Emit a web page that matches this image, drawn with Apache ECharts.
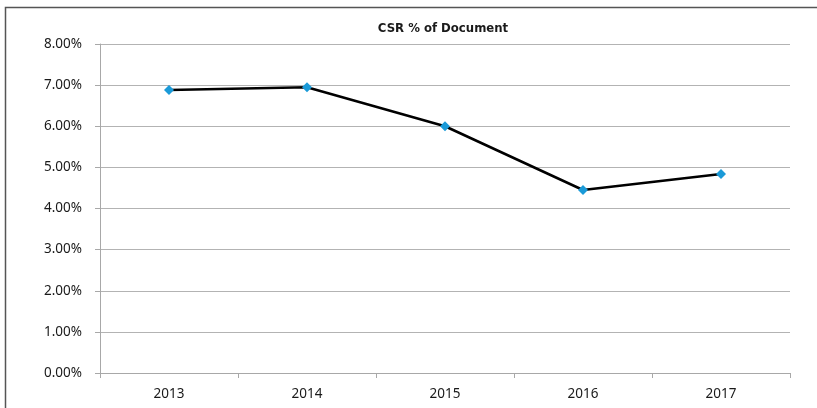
<!DOCTYPE html>
<html>
<head>
<meta charset="utf-8">
<script src="https://cdn.jsdelivr.net/npm/echarts@6/dist/echarts.min.js"></script>
<style>
  html, body { margin: 0; padding: 0; background: #fff; }
  #chart { width: 817px; height: 408px; }
</style>
</head>
<body>
<div id="chart"></div>
<script>
const years = ["2013", "2014", "2015", "2016", "2017"];
const csrShare = [6.88, 6.95, 6.00, 4.45, 4.84]; // percent of document
const yTicks = { min: 0, max: 8, step: 1 };

const chart = echarts.init(document.getElementById("chart"));

const options = {
  animation: false,
  title: {
    text: "CSR % of Document",
    left: 438,
    top: 17,
    textAlign: "center",
    textStyle: {
      fontFamily: "DejaVu Sans Condensed",
      fontWeight: "bold",
      fontSize: 13,
      color: "#1a1a1a",
    },
  },
  graphic: [
    {
      type: "rect",
      shape: { x: 5.5, y: 7.5, width: 900, height: 500 },
      style: { fill: "none", stroke: "#555", lineWidth: 1.5 },
      silent: true,
    },
  ],
  grid: { left: 100, right: 27, top: 44, bottom: 35 },
  xAxis: {
    type: "category",
    data: years,
    boundaryGap: true,
    axisLine: { lineStyle: { color: "#a8a8a8", width: 1 } },
    axisTick: { show: true, length: 5, lineStyle: { color: "#a8a8a8" } },
    axisLabel: {
      margin: 14,
      fontFamily: "Noto Sans",
      fontSize: 13.5,
      color: "#1a1a1a",
    },
  },
  yAxis: {
    type: "value",
    min: yTicks.min,
    max: yTicks.max,
    interval: yTicks.step,
    axisLine: { show: true, lineStyle: { color: "#a8a8a8", width: 1 } },
    axisTick: { show: true, length: 5, lineStyle: { color: "#a8a8a8" } },
    splitLine: { lineStyle: { color: "#b3b3b3", width: 1 } },
    axisLabel: {
      margin: 18,
      fontFamily: "Noto Sans",
      fontSize: 13.5,
      color: "#1a1a1a",
      formatter: (v) => v.toFixed(2) + "%",
    },
  },
  series: [
    {
      type: "line",
      data: csrShare,
      symbol: "diamond",
      symbolSize: 10,
      lineStyle: { color: "#000", width: 2.5 },
      itemStyle: { color: "#1a9ad8" },
    },
  ],
};

chart.setOption(options);
</script>
</body>
</html>
